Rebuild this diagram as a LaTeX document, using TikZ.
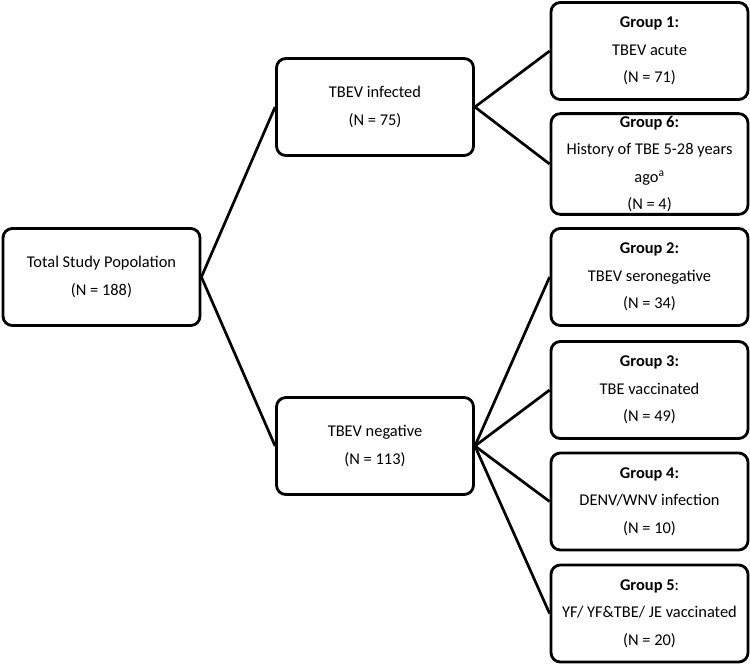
\documentclass[tikz,border=0pt]{standalone}
\usepackage{fontspec}
\setmainfont{Carlito}
\usepackage{tikz}
\usetikzlibrary{positioning}

\begin{document}
\begin{tikzpicture}[
	x=0.03cm, y=-0.03cm,
	box/.style={draw, line width=2.4pt, rounded corners=8pt, align=center,
		minimum width=5.91cm, minimum height=2.91cm, inner sep=2pt,
		font=\fontsize{14}{23.5}\selectfont},
	link/.style={line width=2.3pt}
]
\useasboundingbox (0,0) rectangle (750,667);

\node[box] (total) at (101.5,277) {Total Study Popolation\\(N = 188)};
\node[box] (infected) at (375,107) {TBEV infected\\(N = 75)};
\node[box] (negative) at (375,446) {TBEV negative\\(N = 113)};

\node[box] (group1) at (649.5,51) {\textbf{Group 1:}\\TBEV acute\\(N = 71)};
\node[box] (group6) at (649.5,164) {\textbf{Group 6:}\\History of TBE 5-28 years\\ago\textsuperscript{a}\\(N = 4)};
\node[box] (group2) at (649.5,277) {\textbf{Group 2:}\\TBEV seronegative\\(N = 34)};
\node[box] (group3) at (649.5,390) {\textbf{Group 3:}\\TBE vaccinated\\(N = 49)};
\node[box] (group4) at (649.5,501.5) {\textbf{Group 4:}\\DENV/WNV infection\\(N = 10)};
\node[box] (group5) at (649.5,613.5) {\textbf{Group 5}:\\YF/ YF\&TBE/ JE vaccinated\\(N = 20)};

\draw[link] (total.east) -- (infected.west);
\draw[link] (total.east) -- (negative.west);
\draw[link] (infected.east) -- (group1.west);
\draw[link] (infected.east) -- (group6.west);
\foreach \g in {group2,group3,group4,group5}
	\draw[link] (negative.east) -- (\g.west);
\end{tikzpicture}
\end{document}
